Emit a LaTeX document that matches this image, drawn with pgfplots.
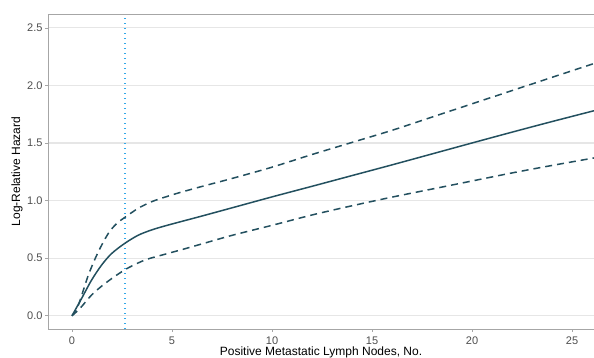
\documentclass[border=0pt]{standalone}
\usepackage{fontspec}
\setmainfont{Liberation Sans}
\usepackage{pgfplots}
\pgfplotsset{compat=1.18}
\definecolor{curve}{HTML}{23505F}
\definecolor{vline}{HTML}{33A8E8}
\definecolor{tickgray}{HTML}{4D4D4D}
\definecolor{gridc}{HTML}{E6E6E6}
\definecolor{border}{HTML}{A6A6A6}
\begin{document}
\begin{tikzpicture}
\begin{axis}[
  name=ax,
  scale only axis,
  width=546pt, height=315pt,
  xmin=-1.2, xmax=26.1,
  ymin=-0.115, ymax=2.62,
  axis x line*=box, axis y line*=left,
  axis line style={draw=border, line width=0.8pt, -},
  xtick={0,5,10,15,20,25},
  ytick={0,0.5,1,1.5,2,2.5},
  xtick pos=left, ytick pos=left,
  tick align=outside,
  major tick length=3pt,
  tick style={draw=border, line width=0.6pt},
  ymajorgrids,
  grid style={draw=gridc, line width=1.1pt},
  /pgf/number format/assume math mode=true,
  yticklabel style={/pgf/number format/fixed, /pgf/number format/fixed zerofill, /pgf/number format/precision=1, anchor=east, xshift=1pt},
  ticklabel style={font=\fontsize{11}{13}\selectfont, text=tickgray},
  xticklabel style={anchor=north, yshift=-1pt},
  xlabel={Positive Metastatic Lymph Nodes, No.},
  ylabel={Log-Relative Hazard},
  label style={font=\fontsize{12}{14}\selectfont},
  xlabel style={at={(axis description cs:0.5,0)}, anchor=base, yshift=-27pt},
  ylabel style={at={(axis description cs:0,0.5)}, anchor=center, rotate=0, yshift=31pt},
  clip=true,
]
\addplot[vline, line width=1.6pt, dash pattern=on 1.4pt off 3.6pt] coordinates {(2.65,-0.115) (2.65,2.62)};
% point estimate
\addplot[curve, line width=1.5pt, smooth, tension=0.5] coordinates {
(0,0) (0.48,0.15) (0.98,0.31) (1.48,0.44) (1.98,0.54) (2.65,0.63) (3.32,0.70) (3.98,0.745) (4.65,0.78) (5.57,0.823)
(6.5,0.866) (8,0.937) (10,1.032) (12,1.124) (14,1.217) (16,1.31) (18,1.405) (20,1.50) (22,1.594) (24,1.686) (26.1,1.78)};
% upper CI
\addplot[curve, line width=1.5pt, dash pattern=on 7pt off 5pt, smooth, tension=0.5] coordinates {
(0,0) (0.32,0.093) (0.82,0.354) (1.32,0.557) (1.82,0.716) (2.23,0.80) (2.65,0.855) (3.32,0.934) (3.98,0.99) (4.65,1.03) (5.3,1.065)
(6.5,1.123) (8,1.192) (10,1.29) (12,1.40) (14,1.505) (16,1.61) (18,1.725) (20,1.84) (22,1.955) (24,2.07) (26.1,2.19)};
% lower CI
\addplot[curve, line width=1.5pt, dash pattern=on 7pt off 5pt, smooth, tension=0.5] coordinates {
(0,0) (0.4,0.064) (0.98,0.18) (1.65,0.28) (2.65,0.40) (3.65,0.484) (4.65,0.534) (5.57,0.578)
(6.5,0.624) (8,0.698) (10,0.785) (12,0.875) (14,0.955) (16,1.03) (18,1.10) (20,1.17) (22,1.24) (24,1.305) (26.1,1.37)};
\end{axis}
\pgfresetboundingbox
\path[use as bounding box] ([xshift=-48pt,yshift=-29pt]ax.south west) rectangle ([yshift=14pt]ax.north east);
\end{tikzpicture}
\end{document}
